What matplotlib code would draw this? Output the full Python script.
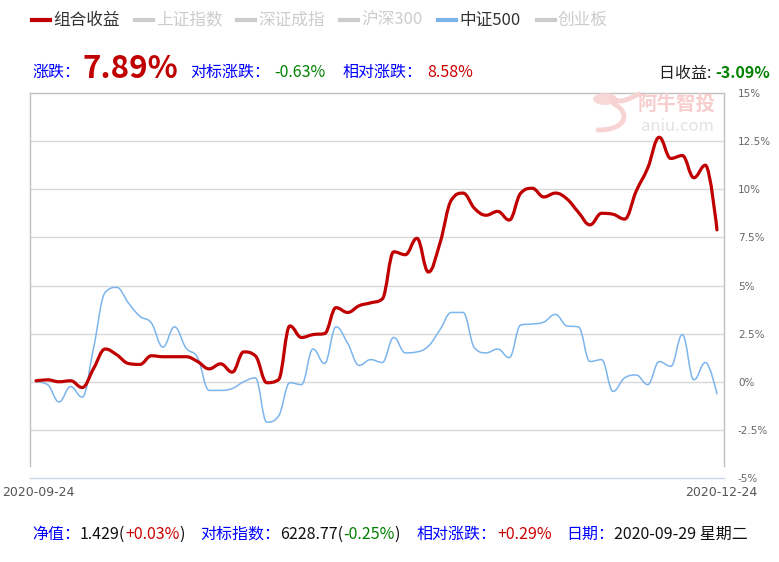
import numpy as np
import matplotlib
matplotlib.use("Agg")
import matplotlib.pyplot as plt
from matplotlib.path import Path
from matplotlib.patches import PathPatch, Ellipse

plt.rcParams['font.family'] = ['Noto Sans CJK SC', 'DejaVu Sans']

# ---------------- data ----------------
portfolio = [0.05, 0.1, 0.0, 0.05, -0.3, 0.7, 1.7, 1.4, 0.95, 0.9,
             1.35, 1.3, 1.3, 1.3, 1.05, 0.67, 0.93, 0.5, 1.55, 1.35,
             -0.05, 0.1, 2.9, 2.3, 2.45, 2.5, 3.85, 3.6, 3.95, 4.1,
             4.3, 6.75, 6.6, 7.45, 5.7, 7.2, 9.45, 9.8, 9.0, 8.65,
             8.85, 8.4, 9.8, 10.05, 9.6, 9.8, 9.5, 8.8, 8.15, 8.75,
             8.7, 8.45, 9.9, 11.1, 12.7, 11.6, 11.75, 10.6, 11.25, 7.89]
csi500 = [0.0, -0.15, -1.05, -0.25, -0.8, 1.8, 4.65, 4.9, 4.1, 3.4,
          3.05, 1.8, 2.85, 1.75, 1.25, -0.45, -0.45, -0.35, 0.0, 0.2,
          -2.1, -1.8, -0.05, -0.15, 1.7, 0.95, 2.85, 2.0, 0.85, 1.15,
          1.0, 2.3, 1.5, 1.55, 1.85, 2.7, 3.6, 3.6, 1.75, 1.5,
          1.7, 1.25, 2.95, 3.0, 3.1, 3.5, 2.9, 2.85, 1.05, 1.15,
          -0.5, 0.2, 0.35, -0.15, 1.05, 0.8, 2.45, 0.1, 1.0, -0.63]
start_date = "2020-09-24"
end_date = "2020-12-24"
y_ticks = [-5, -2.5, 0, 2.5, 5, 7.5, 10, 12.5, 15]
y_tick_labels = ["-5%", "-2.5%", "0%", "2.5%", "5%", "7.5%", "10%", "12.5%", "15%"]
legend_names = ["组合收益", "上证指数", "深证成指", "沪深300", "中证500", "创业板"]
legend_colors = ["#c00000", "#cccccc", "#cccccc", "#cccccc", "#7cb5ec", "#cccccc"]
legend_text_colors = ["#333333", "#cccccc", "#cccccc", "#cccccc", "#333333", "#cccccc"]

RED = "#c00000"
BLUE = "#7cb5ec"
NAVY = "#0000ff"
GREEN = "#008000"

W, H = 779, 562
fig = plt.figure(figsize=(W / 100, H / 100), dpi=100)


def fx(px):
    return px / W


def fy(py):
    return 1 - py / H


# ---------------- plot area ----------------
ax = fig.add_axes([fx(30), fy(478), fx(724) - fx(30), fy(93) - fy(478)])
n = len(portfolio)
xs = np.arange(n)
ax.set_xlim(-0.52, n - 1 + 0.61)
ax.set_ylim(-5, 15)


def spline_path(xv, yv, s=1.5):
    m = len(xv)
    d = s + 1
    lc = [None] * m
    rc = [None] * m
    for i in range(1, m - 1):
        px, py = xv[i], yv[i]
        lx, ly = xv[i - 1], yv[i - 1]
        nx, ny = xv[i + 1], yv[i + 1]
        lcx = (s * px + lx) / d
        lcy = (s * py + ly) / d
        rcx = (s * px + nx) / d
        rcy = (s * py + ny) / d
        if rcx != lcx:
            corr = ((rcy - lcy) * (rcx - px)) / (rcx - lcx) + py - rcy
            lcy += corr
            rcy += corr
            if lcy > ly and lcy > py:
                lcy = max(ly, py); rcy = 2 * py - lcy
            elif lcy < ly and lcy < py:
                lcy = min(ly, py); rcy = 2 * py - lcy
            if rcy > ny and rcy > py:
                rcy = max(ny, py); lcy = 2 * py - rcy
            elif rcy < ny and rcy < py:
                rcy = min(ny, py); lcy = 2 * py - rcy
        lc[i] = (lcx, lcy)
        rc[i] = (rcx, rcy)
    verts = [(xv[0], yv[0])]
    codes = [Path.MOVETO]
    for i in range(1, m):
        c1 = rc[i - 1] if rc[i - 1] is not None else (xv[i - 1], yv[i - 1])
        c2 = lc[i] if lc[i] is not None else (xv[i], yv[i])
        verts += [c1, c2, (xv[i], yv[i])]
        codes += [Path.CURVE4] * 3
    return Path(verts, codes)


for yt in y_ticks[1:-1]:
    ax.axhline(yt, color="#d8d8d8", lw=1.0, zorder=1)

ax.add_patch(PathPatch(spline_path(xs, np.array(csi500, float)), fill=False,
                       edgecolor=BLUE, lw=1.1, zorder=3, capstyle='round', joinstyle='round'))
ax.add_patch(PathPatch(spline_path(xs, np.array(portfolio, float)), fill=False,
                       edgecolor=RED, lw=2.3, zorder=4, capstyle='round', joinstyle='round'))

for side in ["left", "right"]:
    ax.spines[side].set_color("#c0c0c0")
    ax.spines[side].set_linewidth(1.0)
    ax.spines[side].set_bounds(-4.4, 15)
ax.spines["top"].set_color("#c0c0c0")
ax.spines["top"].set_linewidth(1.0)
ax.spines["bottom"].set_color("#ccd6eb")
ax.spines["bottom"].set_linewidth(1.0)

ax.set_xticks([])
ax.yaxis.tick_right()
ax.set_yticks(y_ticks)
ax.set_yticklabels(y_tick_labels, fontsize=7.5, color="#666666", family="DejaVu Sans")
ax.tick_params(axis="y", length=0, pad=10)

# watermark (logo + text)
pink = "#f8d3d3"
fig.add_artist(Ellipse((fx(605), fy(99)), fx(24), 12 / H, transform=fig.transFigure,
                       facecolor=pink, edgecolor="none", alpha=0.9))


def fig_path(pts, codes, **kw):
    p = Path([(fx(x), fy(y)) for x, y in pts], codes)
    fig.add_artist(PathPatch(p, transform=fig.transFigure, fill=False, **kw))


fig_path([(612, 99), (622, 104), (630, 98), (639, 94)],
         [Path.MOVETO, Path.CURVE4, Path.CURVE4, Path.CURVE4],
         edgecolor=pink, lw=3.5, capstyle="round")
fig_path([(614, 104), (630, 112), (628, 130), (598, 130)],
         [Path.MOVETO, Path.CURVE4, Path.CURVE4, Path.CURVE4],
         edgecolor=pink, lw=3.5, capstyle="round")
fig.text(fx(677), fy(104), "阿牛智投", fontsize=14, fontweight="bold", color="#f7cdcd",
         ha="center", va="center")
fig.text(fx(677), fy(126), "aniu.com", fontsize=12, color="#e2e2e2",
         ha="center", va="center")

# x labels
fig.text(fx(2), fy(493), start_date, fontsize=9, color="#555555", ha="left", va="center",
         family="DejaVu Sans")
fig.text(fx(757), fy(493), end_date, fontsize=9, color="#555555", ha="right", va="center",
         family="DejaVu Sans")

renderer = fig.canvas.get_renderer()


def chain(x, y, pieces, va="baseline"):
    for item in pieces:
        txt, col, size = item[0], item[1], item[2]
        weight = item[3] if len(item) > 3 else "normal"
        gap = item[4] if len(item) > 4 else 0
        t = fig.text(fx(x), fy(y), txt, color=col, fontsize=size, fontweight=weight,
                     ha="left", va=va)
        bb = t.get_window_extent(renderer=renderer)
        x += bb.width + gap
    return x


# legend row
lx = [32, 135, 237, 340, 438, 537]
for name, lc, tc, x0 in zip(legend_names, legend_colors, legend_text_colors, lx):
    fig.add_artist(plt.Line2D([fx(x0), fx(x0 + 18)], [fy(20), fy(20)], color=lc, lw=3,
                              transform=fig.transFigure))
    fig.text(fx(x0 + 21), fy(20), name, fontsize=12, color=tc, ha="left", va="center")

# second row
FS = 11.5
chain(32, 77, [("涨跌：", NAVY, FS, "normal", 4)])
chain(82, 78, [("7.89%", "#c00000", 22.5, "bold")])
chain(190, 77, [("对标涨跌：", NAVY, FS, "normal", 4), ("-0.63%", GREEN, FS)])
chain(343, 77, [("相对涨跌：", NAVY, FS, "normal", 4), ("8.58%", "#cc0000", FS)])
chain(659, 78, [("日收益: ", "#222222", FS), ("-3.09%", GREEN, FS, "bold")])

# footer
chain(32, 539, [("净值：", NAVY, FS), ("1.429(", "#111111", FS), ("+0.03%", "#cc0000", FS),
                (")", "#111111", FS)])
chain(200, 539, [("对标指数：", NAVY, FS), ("6228.77(", "#111111", FS), ("-0.25%", GREEN, FS),
                 (")", "#111111", FS)])
chain(417, 539, [("相对涨跌：", NAVY, FS), ("+0.29%", "#cc0000", FS)])
chain(566, 539, [("日期：", NAVY, FS), ("2020-09-29 星期二", "#111111", FS)])

fig.savefig("out.png", dpi=100)
